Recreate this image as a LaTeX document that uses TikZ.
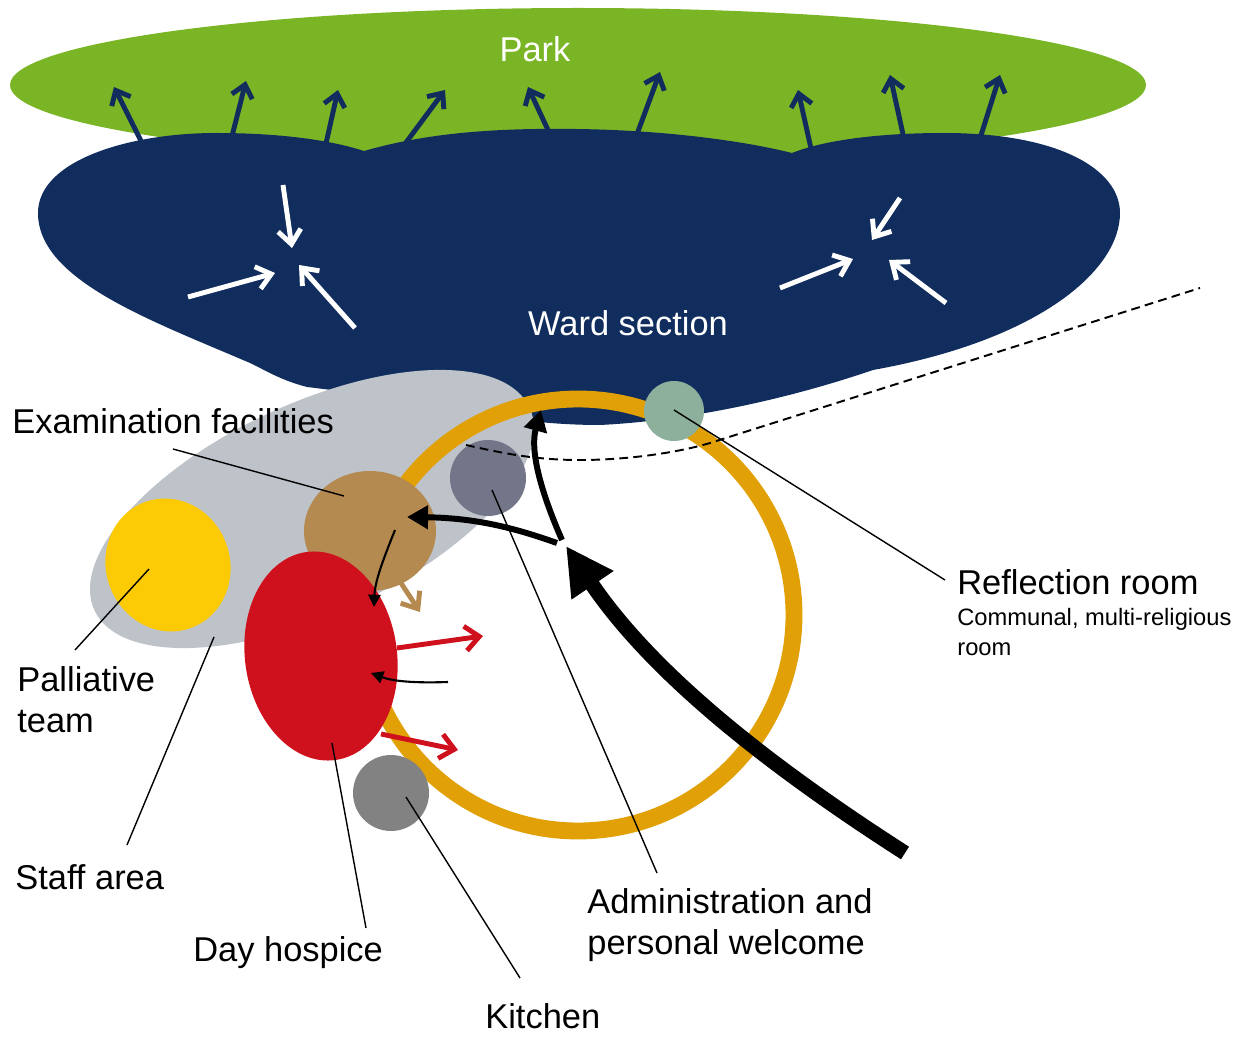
\documentclass[tikz,border=0pt]{standalone}
\usepackage{fontspec}
\setmainfont{Liberation Sans}
\usetikzlibrary{arrows.meta}
\definecolor{parkgreen}{RGB}{122,181,38}
\definecolor{wardblue}{RGB}{16,45,94}
\definecolor{staffgrey}{RGB}{190,195,201}
\definecolor{palliyellow}{RGB}{252,203,6}
\definecolor{exambrown}{RGB}{181,138,80}
\definecolor{dayred}{RGB}{207,17,30}
\definecolor{admingrey}{RGB}{115,117,137}
\definecolor{kitchengrey}{RGB}{130,130,130}
\definecolor{reflectgreen}{RGB}{140,176,156}
\definecolor{ringorange}{RGB}{224,160,6}

\begin{document}
\begin{tikzpicture}[x=0.02cm, y=-0.02cm,
    big/.style={font=\fontsize{19.6}{23.5}\selectfont},
    small/.style={font=\fontsize{13.5}{17}\selectfont},
    lbl/.style={big, anchor=west, align=left, inner sep=0pt},
    leader/.style={line width=0.8pt},
    outarr/.style={line width=2.8pt, wardblue, -{Straight Barb[length=7pt,width=12pt]}},
    inarr/.style={line width=2.8pt, white, -{Straight Barb[length=8pt,width=13pt]}},
    redarr/.style={line width=2.8pt, dayred, -{Straight Barb[length=8pt,width=14pt]}},
    flow/.style={line width=3.4pt, -{Triangle[length=12pt,width=13pt]}},
    thinflow/.style={line width=1.2pt, -{Triangle[length=7pt,width=7pt]}},
]
\useasboundingbox (0,0) rectangle (1249,1037);

% park and the arrows out to it
\fill[parkgreen] (578,85) ellipse [x radius=568, y radius=77];
\node[big, text=white] (park) at (535,49) {Park};
\draw[outarr] (146,151) -- (114,87);
\draw[outarr] (229,148) -- (246,81);
\draw[outarr] (323,157) -- (338,90);
\draw[outarr] (396,156) -- (445,90);
\draw[outarr] (554,143) -- (528,87);
\draw[outarr] (633,145) -- (660,72);
\draw[outarr] (814,162) -- (798,90);
\draw[outarr] (906,148) -- (890,75);
\draw[outarr] (977,148) -- (1000,75);

% ward section
\fill[wardblue] (38,213) .. controls (38,160) and (130,133) .. (216,133)
  .. controls (280,133) and (330,140) .. (364,151)
  .. controls (430,132) and (500,128) .. (576,129)
  .. controls (660,130) and (740,140) .. (792,153)
  .. controls (830,138) and (890,133) .. (944,133)
  .. controls (1060,133) and (1120,170) .. (1120,213)
  .. controls (1120,270) and (1040,340) .. (873,370)
  .. controls (800,395) and (700,420) .. (600,425)
  .. controls (500,425) and (420,400) .. (307,387)
  .. controls (280,380) and (265,370) .. (250,363)
  .. controls (150,320) and (38,280) .. cycle;
\node[big, text=white] (ward) at (628,323) {Ward section};
\draw[inarr] (283,185) -- (292,248);
\draw[inarr] (188,297) -- (275,273);
\draw[inarr] (355,328) -- (299,265);
\draw[inarr] (900,198) -- (872,240);
\draw[inarr] (780,288) -- (853,259);
\draw[inarr] (946,303) -- (889,260);

% rooms
\fill[staffgrey, rotate around={25:(312,509)}] (312,509) ellipse [x radius=240, y radius=105];
\fill[palliyellow, rotate around={20:(168,565)}] (168,565) ellipse [x radius=62, y radius=67];
\draw[ringorange, line width=9.6pt] (578,615) circle [radius=216];
\fill[exambrown] (370,531) ellipse [x radius=66, y radius=60];
\fill[admingrey] (488,478) circle [radius=38];
\fill[dayred, rotate around={8:(321,656)}] (321,656) ellipse [x radius=76, y radius=105];
\fill[kitchengrey] (391,793) circle [radius=38];
\fill[reflectgreen] (674,411) circle [radius=30];

\draw[dashed, line width=1.1pt, dash pattern=on 5pt off 3pt] (466,445)
  .. controls (510,455) and (540,460) .. (580,460)
  .. controls (630,460) and (680,452) .. (710,443) -- (1200,288);

% movements
\draw[line width=2.8pt, exambrown, -{Straight Barb[length=8pt,width=13pt]}] (399,580) -- (420,612);
\draw[redarr] (397,648) -- (483,636);
\draw[redarr] (381,734) -- (458,750);
\draw[thinflow] (395,530) .. controls (385,555) and (375,580) .. (374,607);
\draw[thinflow] (448,682) .. controls (420,683) and (395,682) .. (371,673);
\draw[flow] (562,540) .. controls (540,490) and (530,450) .. (541,410);
\draw[flow] (557,543) .. controls (520,530) and (480,518) .. (407,517);
\draw[line width=8.5pt, -{Triangle[length=27pt,width=27pt]}] (905,853)
  .. controls (760,760) and (650,670) .. (566,546);

% labels
\node[lbl] (exam) at (12,421) {Examination facilities};
\node[lbl] (pall) at (17,700) {Palliative\\team};
\node[lbl] (staff) at (15,877) {Staff area};
\node[lbl] (day) at (193,953) {Day hospice};
\node[lbl] (kitchen) at (485,1016) {Kitchen};
\node[lbl] (admin) at (587,925) {Administration and\\personal welcome};
\node[lbl] (refl) at (957,582) {Reflection room};
\node[lbl, small] (reflnote) at (957,632) {Communal, multi-religious\\room};

\coordinate (exampin) at (344,496);
\coordinate (pallpin) at (149,569);
\coordinate (staffpin) at (214,637);
\coordinate (daypin) at (332,743);
\coordinate (kitchenpin) at (406,797);
\coordinate (adminpin) at (492,490);
\coordinate (reflpin) at (674,410);
\draw[leader] (173,449) -- (exampin);
\draw[leader] (75,650) -- (pallpin);
\draw[leader] (127,845) -- (staffpin);
\draw[leader] (366,928) -- (daypin);
\draw[leader] (520,978) -- (kitchenpin);
\draw[leader] (657,873) -- (adminpin);
\draw[leader] (945,580) -- (reflpin);
\end{tikzpicture}
\end{document}
